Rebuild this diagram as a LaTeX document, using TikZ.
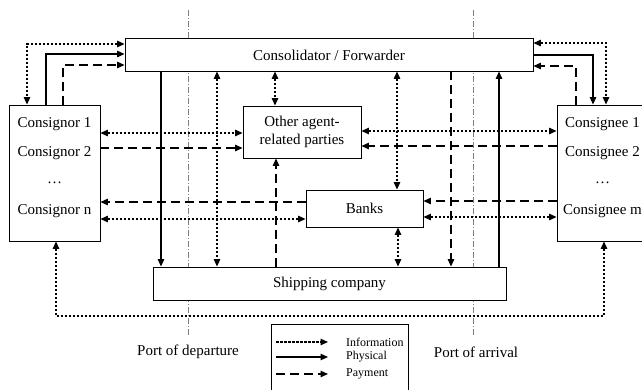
\documentclass[tikz,border=0pt]{standalone}
\usepackage{fontspec}
\setmainfont{Liberation Serif}
\usetikzlibrary{arrows.meta}
\tikzset{
  box/.style={draw, line width=0.9pt, fill=white, inner sep=0pt},
  txt/.style={inner sep=0pt, font=\fontsize{15}{18}\selectfont},
  ltxt/.style={inner sep=0pt, anchor=west, font=\fontsize{12}{14}\selectfont},
  conn/.style={line width=1.2pt, >={Triangle[length=7.5pt,width=6.5pt]}},
  info/.style={conn, dash pattern=on 2.5pt off 1.5pt},
  phys/.style={conn},
  pay/.style={conn, dash pattern=on 9pt off 5pt},
  port/.style={gray, line width=0.6pt, dash pattern=on 6pt off 2pt on 1pt off 2pt}
}
\begin{document}
\begin{tikzpicture}[x=1pt,y=-1pt]
\useasboundingbox (0,0) rectangle (642,389);
\clip (0,0) rectangle (642,389);
% port lines
\draw[port] (188,10) coordinate (pd1) -- (188,336) coordinate (pd2);
\draw[port] (473,10) coordinate (pa1) -- (473,336) coordinate (pa2);
% boxes
\node[box, minimum width=408pt, minimum height=33pt] (cons) at (329,54.5) {};
\node[txt] (consT) at (329,55) {Consolidator / Forwarder};
\node[box, minimum width=91pt, minimum height=136pt] (cnor) at (54.5,173) {};
\node[box, minimum width=91pt, minimum height=136pt] (cnee) at (602.5,173) {};
\node[box, minimum width=118pt, minimum height=52pt, align=center, txt] (other) at (302,132) {Other agent-\\related parties};
\node[box, minimum width=117pt, minimum height=37pt, txt] (banks) at (364.5,208.5) {Banks};
\node[box, minimum width=353pt, minimum height=33pt, txt] (ship) at (329.5,283.5) {Shipping company};
\node[txt] (c1) at (54.5,124) {Consignor 1};
\node[txt] (c2) at (54.5,153) {Consignor 2};
\node[txt] (c3) at (54.5,183) {\dots};
\node[txt] (c4) at (54.5,211) {Consignor n};
\node[txt] (e1) at (602.5,124) {Consignee 1};
\node[txt] (e2) at (602.5,153) {Consignee 2};
\node[txt] (e3) at (602.5,183) {\dots};
\node[txt] (e4) at (602.5,211) {Consignee m};
% left connections to consolidator
\draw[info,<->] (cons.west |- 0,44) -| (27,0 |- cnor.north);
\draw[phys,->] (46,0 |- cnor.north) |- (cons.west |- 0,54);
\draw[pay,->] (63,0 |- cnor.north) |- (cons.west |- 0,65);
% right connections to consolidator
\draw[info,<->] (cons.east |- 0,43) -| (606,0 |- cnee.north);
\draw[phys,->] (cons.east |- 0,55) -| (593,0 |- cnee.north);
\draw[pay,->] (576,0 |- cnee.north) |- (cons.east |- 0,66);
% horizontal
\draw[info,<->] (cnor.east |- 0,133) -- (other.west |- 0,133);
\draw[pay,->] (cnor.east |- 0,148) -- (other.west |- 0,148);
\draw[info,<->] (other.east |- 0,131) -- (cnee.west |- 0,131);
\draw[pay,->] (cnee.west |- 0,146) -- (other.east |- 0,146);
\draw[pay,->] (banks.west |- 0,202) -- (cnor.east |- 0,202);
\draw[info,<->] (cnor.east |- 0,219) -- (banks.west |- 0,219);
\draw[pay,->] (cnee.west |- 0,201) -- (banks.east |- 0,201);
\draw[info,<->] (banks.east |- 0,217) -- (cnee.west |- 0,217);
% vertical
\draw[phys,->] (161,0 |- cons.south) -- (161,0 |- ship.north);
\draw[info,<->] (217,0 |- cons.south) -- (217,0 |- ship.north);
\draw[info,<->] (275,0 |- cons.south) -- (275,0 |- other.north);
\draw[pay,->] (276,0 |- ship.north) -- (276,0 |- other.south);
\draw[info,<->] (397,0 |- cons.south) -- (397,0 |- banks.north);
\draw[info,<->] (398,0 |- banks.south) -- (398,0 |- ship.north);
\draw[pay,->] (451,0 |- cons.south) -- (451,0 |- ship.north);
\draw[phys,->] (499,0 |- ship.north) -- (499,0 |- cons.south);
% bottom loop
\draw[info,<->] (56,0 |- cnor.south) -- (56,316) -- (604,316) -- (604,0 |- cnee.south);
% port labels
\node[txt] (pdl) at (188,352) {Port of departure};
\node[txt] (pal) at (476,352) {Port of arrival};
% legend
\node[draw, line width=0.9pt, minimum width=137pt, minimum height=72pt, inner sep=0pt] (legend) at (339.5,360) {};
\coordinate (li1) at (276,342); \coordinate (li2) at (328,342);
\coordinate (lp1) at (276,357); \coordinate (lp2) at (328,357);
\coordinate (ly1) at (276,374); \coordinate (ly2) at (328,374);
\draw[info,->] (li1) -- (li2);
\draw[phys,->] (lp1) -- (lp2);
\draw[pay,->] (ly1) -- (ly2);
\node[ltxt] (lit) at (346,342) {Information};
\node[ltxt] (lpt) at (346,357) {Physical};
\node[ltxt] (lyt) at (346,374) {Payment};
\end{tikzpicture}
\end{document}
